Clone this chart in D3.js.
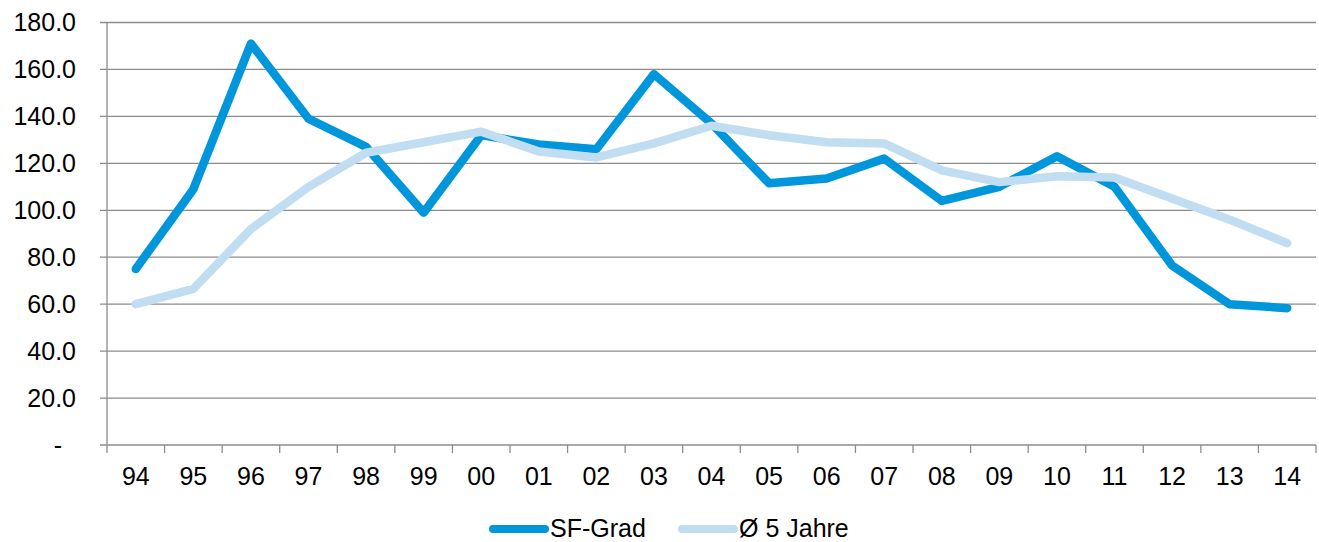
<!DOCTYPE html>
<html>
<head>
<meta charset="utf-8">
<script src="https://cdn.jsdelivr.net/npm/d3@7"></script>
<style>
  body { margin: 0; background: #fff; }
  text { font-family: "Liberation Sans", Arial, sans-serif; fill: #000; }
</style>
</head>
<body>
<div id="chart"></div>
<script>
var years = ["94","95","96","97","98","99","00","01","02","03","04","05","06","07","08","09","10","11","12","13","14"];
var sfGrad = [75, 109, 171, 139, 127, 99, 132, 128, 126, 158, 137, 111.5, 113.5, 122, 104, 110, 123, 110, 76.5, 60, 58.3];
var avg5 = [60, 66.5, 92, 110, 124.5, 129, 133.5, 125, 122.5, 128.5, 136, 132, 129, 128.5, 117, 112, 114.5, 114, 105, 96, 86];
var yTicks = [0, 20, 40, 60, 80, 100, 120, 140, 160, 180];
var seriesNames = ["SF-Grad", "Ø 5 Jahre"];
var colors = ["#0096dc", "#c0ddf1"];

var width = 1319, height = 542;
var margin = {left: 107, right: 3, top: 22.5, bottom: 97};

var svg = d3.select("#chart").append("svg")
    .attr("width", width)
    .attr("height", height);

var x = d3.scaleBand()
    .domain(years)
    .range([margin.left, width - margin.right]);

var y = d3.scaleLinear()
    .domain([0, 180])
    .range([height - margin.bottom, margin.top]);

// gridlines
svg.append("g")
    .selectAll("line")
    .data(yTicks)
    .enter()
    .append("line")
    .attr("x1", margin.left - 7)
    .attr("x2", width - margin.right)
    .attr("y1", d => y(d))
    .attr("y2", d => y(d))
    .attr("stroke", "#8c8c8c")
    .attr("stroke-width", 1.3);

// y axis line
svg.append("line")
    .attr("x1", margin.left).attr("x2", margin.left)
    .attr("y1", y(180)).attr("y2", y(0) + 8)
    .attr("stroke", "#8c8c8c")
    .attr("stroke-width", 1.3);

// x ticks at band boundaries
var bounds = years.map(d => x(d)).concat([x(years[years.length - 1]) + x.bandwidth()]);
svg.append("g")
    .selectAll("line")
    .data(bounds.slice(1))
    .enter()
    .append("line")
    .attr("x1", d => d).attr("x2", d => d)
    .attr("y1", y(0)).attr("y2", y(0) + 8)
    .attr("stroke", "#8c8c8c")
    .attr("stroke-width", 1.3);

// y labels
svg.append("g")
    .selectAll("text")
    .data(yTicks)
    .enter()
    .append("text")
    .attr("x", d => d === 0 ? 62 : 76)
    .attr("y", d => y(d) + 8.5)
    .attr("text-anchor", "end")
    .style("font-size", "25px")
    .text(d => d === 0 ? "-" : d.toFixed(1));

// x labels
svg.append("g")
    .selectAll("text")
    .data(years)
    .enter()
    .append("text")
    .attr("x", d => x(d) + x.bandwidth() / 2)
    .attr("y", 485)
    .attr("text-anchor", "middle")
    .style("font-size", "25px")
    .text(d => d);

var line = d3.line()
    .x((d, i) => x(years[i]) + x.bandwidth() / 2)
    .y(d => y(d));

svg.append("path")
    .datum(sfGrad)
    .attr("d", line)
    .attr("fill", "none")
    .attr("stroke", colors[0])
    .attr("stroke-width", 8.5)
    .attr("stroke-linejoin", "round")
    .attr("stroke-linecap", "round");

svg.append("path")
    .datum(avg5)
    .attr("d", line)
    .attr("fill", "none")
    .attr("stroke", colors[1])
    .attr("stroke-width", 8.5)
    .attr("stroke-linejoin", "round")
    .attr("stroke-linecap", "round");

// legend
var legendX = [489, 678];
var legend = svg.append("g")
    .selectAll("g")
    .data(seriesNames)
    .enter()
    .append("g")
    .attr("transform", (d, i) => "translate(" + legendX[i] + ",529)");

legend.append("line")
    .attr("x1", 4).attr("x2", 56)
    .attr("y1", 0).attr("y2", 0)
    .attr("stroke", (d, i) => colors[i])
    .attr("stroke-width", 8)
    .attr("stroke-linecap", "round");

legend.append("text")
    .attr("x", 61)
    .attr("y", 7.5)
    .style("font-size", "25px")
    .text(d => d);
</script>
</body>
</html>
